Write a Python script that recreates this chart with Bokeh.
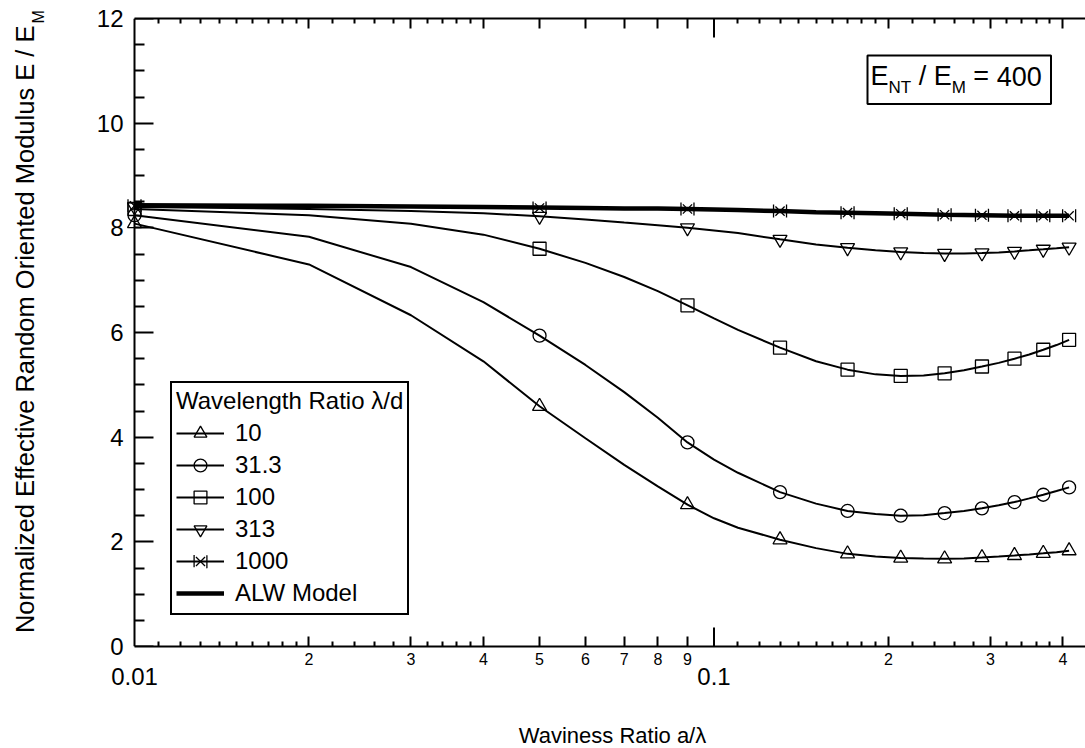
import math
from bokeh.plotting import figure
from bokeh.models import (Range1d, LogAxis, LinearAxis, FixedTicker, Legend, LegendItem, Label,
                          BoxAnnotation)
from bokeh.embed import file_html
from bokeh.resources import INLINE

FONT = "Liberation Sans"

# ---------------- data ----------------
a_over_lambda = [0.01, 0.02, 0.03, 0.04, 0.05, 0.06, 0.07, 0.08, 0.09, 0.10, 0.11, 0.13,
                 0.15, 0.17, 0.19, 0.21, 0.23, 0.25, 0.27, 0.29, 0.31, 0.33, 0.35, 0.37, 0.39, 0.41]
marker_a_over_lambda = [0.01, 0.05, 0.09, 0.13, 0.17, 0.21, 0.25, 0.29, 0.33, 0.37, 0.41]

modulus_10 = [8.08, 7.30, 6.33, 5.45, 4.59, 3.98, 3.47, 3.06, 2.71, 2.45, 2.27, 2.04,
              1.88, 1.77, 1.72, 1.69, 1.68, 1.675, 1.68, 1.70, 1.72, 1.74, 1.76, 1.78, 1.80, 1.83]
modulus_31_3 = [8.24, 7.83, 7.25, 6.58, 5.94, 5.38, 4.86, 4.37, 3.90, 3.57, 3.32, 2.95,
                2.73, 2.59, 2.53, 2.50, 2.51, 2.55, 2.59, 2.64, 2.70, 2.76, 2.83, 2.90, 2.97, 3.04]
modulus_100 = [8.36, 8.24, 8.08, 7.87, 7.60, 7.33, 7.06, 6.79, 6.52, 6.27, 6.05, 5.71,
               5.45, 5.29, 5.20, 5.17, 5.18, 5.22, 5.28, 5.35, 5.42, 5.50, 5.58, 5.67, 5.76, 5.86]
modulus_313 = [8.40, 8.36, 8.32, 8.28, 8.22, 8.16, 8.10, 8.05, 8.00, 7.95, 7.90, 7.78,
               7.68, 7.62, 7.57, 7.54, 7.52, 7.51, 7.51, 7.52, 7.53, 7.55, 7.57, 7.59, 7.61, 7.63]
modulus_1000 = [8.42, 8.41, 8.40, 8.39, 8.38, 8.37, 8.37, 8.36, 8.36, 8.35, 8.34, 8.32,
                8.30, 8.29, 8.28, 8.27, 8.26, 8.25, 8.245, 8.24, 8.235, 8.23, 8.23, 8.23, 8.23, 8.23]
alw_model = [8.43, 8.42, 8.41, 8.40, 8.39, 8.38, 8.37, 8.37, 8.36, 8.35, 8.34, 8.32,
             8.30, 8.29, 8.28, 8.27, 8.26, 8.25, 8.245, 8.24, 8.235, 8.23, 8.23, 8.23, 8.23, 8.23]

wavelength_labels = ["10", "31.3", "100", "313", "1000"]
alw_label = "ALW Model"

x_end_ticks = [0.01, 0.1]
x_end_texts = ["0.01", "0.1"]
x_digit_ticks = [0.02, 0.03, 0.04, 0.05, 0.06, 0.07, 0.08, 0.09, 0.2, 0.3, 0.4]
x_digit_texts = ["2", "3", "4", "5", "6", "7", "8", "9", "2", "3", "4"]
x_minor_ticks = [0.011, 0.012, 0.013, 0.014, 0.015, 0.016, 0.017, 0.018, 0.019,
                 0.022, 0.024, 0.026, 0.028, 0.032, 0.034, 0.036, 0.038,
                 0.11, 0.12, 0.13, 0.14, 0.15, 0.16, 0.17, 0.18, 0.19,
                 0.22, 0.24, 0.26, 0.28, 0.32, 0.34, 0.36, 0.38]
y_ticks = [0, 2, 4, 6, 8, 10, 12]
y_minor_ticks = [0.5, 1, 1.5, 2.5, 3, 3.5, 4.5, 5, 5.5, 6.5, 7, 7.5,
                 8.5, 9, 9.5, 10.5, 11, 11.5]

# ---------------- layout constants ----------------
W, H = 1085, 748
AXIS_X_PX = 134            # canvas x of the y axis (a/lambda = 0.01)
BORDER_L, BORDER_T, BORDER_B = 126, 18, 102
FRAME_H = H - BORDER_T - BORDER_B
FRAME_BOTTOM = H - BORDER_B
PX_PER_DECADE = 579.5
X_AXIS_START = 0.01
X_START = 10 ** (math.log10(X_AXIS_START) - (AXIS_X_PX - BORDER_L) / PX_PER_DECADE)
X_END = 10 ** (math.log10(X_START) + (W - BORDER_L) / PX_PER_DECADE)
Y_START, Y_END = 0, 12
PX_PER_Y = FRAME_H / (Y_END - Y_START)


def dx(px):
    """canvas x pixel -> data x (log axis)"""
    return 10 ** (math.log10(X_START) + (px - BORDER_L) / PX_PER_DECADE)


def dy(py):
    """canvas y pixel -> data y"""
    return Y_START + (FRAME_BOTTOM - py) / PX_PER_Y


# Arial / Liberation Sans advance widths (per 1000 em)
ADV = {' ': 278, '/': 278, '=': 584, '0': 556, '4': 556, 'E': 667, 'N': 722, 'T': 611, 'M': 833}


def text_w(s, size):
    return sum(ADV.get(c, 556) for c in s) * size / 1000.0


p = figure(width=W, height=H, x_axis_type="log",
           x_range=Range1d(X_START, X_END), y_range=Range1d(Y_START, Y_END),
           output_backend="svg", toolbar_location=None, title=None,
           min_border_left=BORDER_L, min_border_right=0,
           min_border_top=BORDER_T, min_border_bottom=BORDER_B)
p.outline_line_color = None
p.xgrid.grid_line_color = None
p.ygrid.grid_line_color = None
p.background_fill_color = "white"
p.border_fill_color = "white"

x_ticker = FixedTicker(ticks=x_digit_ticks, minor_ticks=x_minor_ticks)


def style_x_axis(ax, labels=True):
    ax.ticker = x_ticker
    ax.bounds = (X_AXIS_START, X_END)
    ax.major_label_overrides = {t: s for t, s in zip(x_digit_ticks, x_digit_texts)}
    ax.axis_line_width = 2
    ax.major_tick_line_width = 2
    ax.minor_tick_line_width = 2
    ax.major_tick_in = 10
    ax.major_tick_out = 0
    ax.minor_tick_in = 5
    ax.minor_tick_out = 0
    ax.major_label_text_font = FONT
    if labels:
        ax.major_label_text_color = "black"
        ax.major_label_text_font_size = "16px"
        ax.major_label_standoff = 6
    else:
        ax.major_label_text_color = None
        ax.major_label_text_font_size = "0px"
        ax.major_label_standoff = 0


style_x_axis(p.xaxis[0])

xaxis_b = LogAxis(ticker=FixedTicker(ticks=x_end_ticks),
                  major_label_overrides={t: s for t, s in zip(x_end_ticks, x_end_texts)},
                  axis_line_color=None, major_tick_in=0, major_tick_out=0,
                  minor_tick_in=0, minor_tick_out=0, major_label_standoff=0,
                  major_label_text_font=FONT, major_label_text_font_size="24px",
                  major_label_text_color="black")
p.add_layout(xaxis_b, "below")

xaxis_top = LogAxis()
style_x_axis(xaxis_top, labels=False)
p.add_layout(xaxis_top, "above")

y_ticker = FixedTicker(ticks=y_ticks, minor_ticks=y_minor_ticks)

# y axis labels (at the frame edge, outside the frame so they are not clipped)
ya = p.yaxis[0]
ya.ticker = y_ticker
ya.axis_line_color = None
ya.major_tick_in = 0
ya.major_tick_out = 0
ya.minor_tick_in = 0
ya.minor_tick_out = 0
ya.major_label_standoff = 3
ya.major_label_text_font = FONT
ya.major_label_text_font_size = "24px"
ya.major_label_text_color = "black"

# y axis line and ticks at a/lambda = 0.01
ya_line = LinearAxis(ticker=y_ticker, fixed_location=X_AXIS_START,
                     axis_line_width=2, major_tick_line_width=2, minor_tick_line_width=2,
                     major_tick_in=19, major_tick_out=0, minor_tick_in=10, minor_tick_out=0,
                     major_label_text_color=None, major_label_text_font_size="0px",
                     major_label_standoff=0)
p.add_layout(ya_line, "left")

# long decade ticks at 0.1 (bottom and top)
long_tick = 19 / PX_PER_Y
p.segment(x0=[0.1, 0.1], y0=[Y_START, Y_END], x1=[0.1, 0.1],
          y1=[Y_START + long_tick, Y_END - long_tick], line_color="black", line_width=2)

# ---------------- series ----------------
idx = [a_over_lambda.index(v) for v in marker_a_over_lambda]
items = []
alw_r = p.line(a_over_lambda, alw_model, line_color="black", line_width=4.5)

series = [modulus_10, modulus_31_3, modulus_100, modulus_313, modulus_1000]
markers = ["triangle", "circle", "square", "inverted_triangle", "bowtie"]
sizes = [14, 13, 13, 14, 13]
for label, vals, mk, sz in zip(wavelength_labels, series, markers, sizes):
    lr = p.line(a_over_lambda, vals, line_color="black", line_width=2)
    mx = [a_over_lambda[i] for i in idx]
    my = [vals[i] for i in idx]
    rs = [lr]
    if mk == "bowtie":
        r1 = p.scatter(mx, my, marker="square", size=sz, fill_color=None, line_color="black",
                       line_width=1.3, line_dash=f"{sz} {sz}", line_dash_offset=sz)
        r2 = p.scatter(mx, my, marker="x", size=sz, line_color="black", line_width=1.3)
        rs += [r1, r2]
    else:
        r1 = p.scatter(mx, my, marker=mk, size=sz, fill_color=None, line_color="black",
                       line_width=1.3)
        rs.append(r1)
    items.append(LegendItem(label=label, renderers=rs))
items.append(LegendItem(label=alw_label, renderers=[alw_r]))

legend = Legend(items=items, location=(170 - BORDER_L, FRAME_BOTTOM - 615),
                title="Wavelength Ratio λ/d", title_text_font=FONT, title_text_font_size="24px",
                title_text_font_style="normal", title_text_color="black", title_standoff=2,
                label_text_font=FONT, label_text_font_size="24px", label_text_color="black",
                glyph_width=48, glyph_height=32, label_height=32, spacing=0,
                padding=4, margin=0, label_standoff=11,
                border_line_color="black", border_line_width=2, border_line_alpha=1,
                background_fill_color="white", background_fill_alpha=1)
p.add_layout(legend)

# ---------------- annotation box: E_NT / E_M = 400 ----------------
p.add_layout(BoxAnnotation(left=dx(867), right=dx(1050.5), top=dy(55), bottom=dy(103.5),
                           fill_color="white", fill_alpha=1,
                           line_color="black", line_width=2, line_alpha=1))
MAIN, SUB = 27, 17
MAIN_MID, SUB_MID = 75.8, 87.2
SPACE = text_w(" ", MAIN)
parts = [("E", MAIN, MAIN_MID, 0), ("NT", SUB, SUB_MID, 0), ("/", MAIN, MAIN_MID, SPACE),
         ("E", MAIN, MAIN_MID, SPACE), ("M", SUB, SUB_MID, 0), ("=", MAIN, MAIN_MID, SPACE),
         ("400", MAIN, MAIN_MID, SPACE)]
cx = 870
for txt, sz, mid, gap in parts:
    cx += gap
    p.add_layout(Label(x=dx(cx), y=dy(mid), text=txt,
                       text_font=FONT, text_font_size=f"{sz}px", text_align="left",
                       text_baseline="middle", text_color="black"))
    cx += text_w(txt, sz)

# ---------------- axis titles (in side panels so they are not clipped) ----------------
p.add_layout(Label(x=dx(612), y=dy(735), text="Waviness Ratio a/λ", text_font=FONT,
                   text_font_size="22px", text_align="center", text_baseline="middle",
                   text_color="black"), "below")
p.add_layout(Label(x=dx(24.5), y=dy(25), text="Normalized Effective Random Oriented Modulus E / E",
                   angle=math.pi / 2, text_font=FONT, text_font_size="25.5px", text_align="right",
                   text_baseline="middle", text_color="black"), "left")
p.add_layout(Label(x=dx(37.5), y=dy(23), text="M", angle=math.pi / 2, text_font=FONT,
                   text_font_size="16px", text_align="left", text_baseline="middle",
                   text_color="black"), "left")

open("out.html", "w").write(file_html(p, INLINE))
